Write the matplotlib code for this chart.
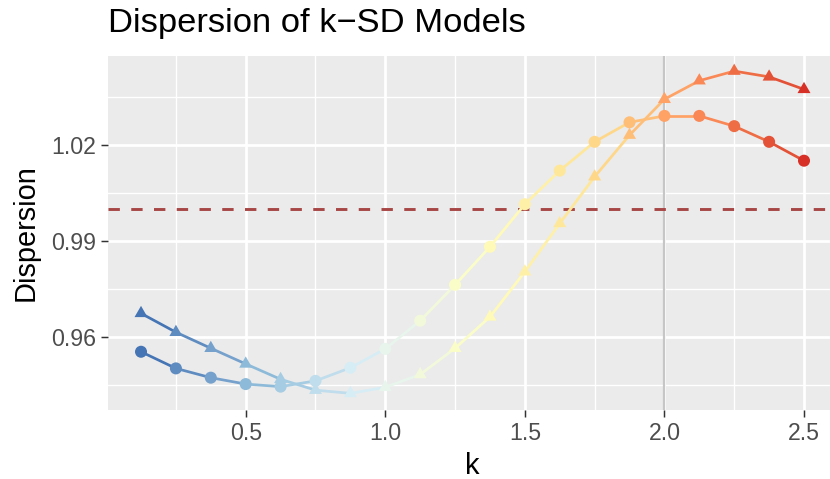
import numpy as np
import matplotlib
matplotlib.use("Agg")
import matplotlib.pyplot as plt
from matplotlib.colors import ListedColormap
from matplotlib.path import Path

# ---- data ----
k_values = [0.125, 0.25, 0.375, 0.5, 0.625, 0.75, 0.875, 1.0, 1.125, 1.25,
            1.375, 1.5, 1.625, 1.75, 1.875, 2.0, 2.125, 2.25, 2.375, 2.5]
disp_circle = [0.9554, 0.9502, 0.9473, 0.9453, 0.9445, 0.9463, 0.9504, 0.9563, 0.9651, 0.9763,
               0.9882, 1.0015, 1.0120, 1.0210, 1.0271, 1.0291, 1.0291, 1.0259, 1.0210, 1.0151]
disp_triangle = [0.9674, 0.9615, 0.9565, 0.9516, 0.9468, 0.9434, 0.9424, 0.9443, 0.9483, 0.9565,
                 0.9663, 0.9804, 0.9955, 1.0101, 1.0231, 1.0343, 1.0401, 1.0431, 1.0413, 1.0374]
x_ticks = [0.5, 1.0, 1.5, 2.0, 2.5]
x_ticklabels = ["0.5", "1.0", "1.5", "2.0", "2.5"]
y_ticks = [0.96, 0.99, 1.02]
y_ticklabels = ["0.96", "0.99", "1.02"]
ref_h = 1.0
ref_v = 2.0
palette_hex = ["#4575b4", "#91bfdb", "#e0f3f8", "#ffffbf", "#fee090", "#fc8d59", "#d73027"]

# ---- Lab-interpolated colour map (like ggplot's gradientn) ----
def hex2rgb(h):
    h = h.lstrip("#")
    return np.array([int(h[i:i + 2], 16) / 255 for i in (0, 2, 4)])

M = np.array([[0.4124564, 0.3575761, 0.1804375],
              [0.2126729, 0.7151522, 0.0721750],
              [0.0193339, 0.1191920, 0.9503041]])
WHITE = np.array([0.95047, 1.0, 1.08883])

def rgb2lab(c):
    lin = np.where(c <= 0.04045, c / 12.92, ((c + 0.055) / 1.055) ** 2.4)
    xyz = M @ lin / WHITE
    f = np.where(xyz > 0.008856, np.cbrt(xyz), 7.787 * xyz + 16 / 116)
    return np.array([116 * f[1] - 16, 500 * (f[0] - f[1]), 200 * (f[1] - f[2])])

def lab2rgb(lab):
    L, a, b = lab
    fy = (L + 16) / 116
    fx = fy + a / 500
    fz = fy - b / 200
    f = np.array([fx, fy, fz])
    xyz = np.where(f ** 3 > 0.008856, f ** 3, (f - 16 / 116) / 7.787) * WHITE
    lin = np.linalg.solve(M, xyz)
    lin = np.clip(lin, 0, 1)
    c = np.where(lin <= 0.0031308, 12.92 * lin, 1.055 * lin ** (1 / 2.4) - 0.055)
    return np.clip(c, 0, 1)

labs = [rgb2lab(hex2rgb(h)) for h in palette_hex]
stops = np.linspace(0, 1, len(labs))
cols = []
for t in np.linspace(0, 1, 256):
    i = min(np.searchsorted(stops, t, side="right") - 1, len(labs) - 2)
    u = (t - stops[i]) / (stops[i + 1] - stops[i])
    cols.append(lab2rgb(labs[i] * (1 - u) + labs[i + 1] * u))
cmap = ListedColormap(cols)
norm = plt.Normalize(min(k_values), max(k_values))

# ---- figure ----
W, H = 830, 479
fig = plt.figure(figsize=(W / 100, H / 100), dpi=100)
plt.rcParams["font.family"] = ["Liberation Sans", "DejaVu Sans"]

kmin, kmax = min(k_values), max(k_values)
xl = (kmin - 0.05 * (kmax - kmin), kmax + 0.05 * (kmax - kmin))
ylo, yhi = 0.9372, 1.04791
px_per_k = 279.15
left_px = 245.7 - (0.5 - xl[0]) * px_per_k
right_px = left_px + (xl[1] - xl[0]) * px_per_k
top_px, bot_px = 55.7, 410.0
ax = fig.add_axes([left_px / W, 1 - bot_px / H, (right_px - left_px) / W, (bot_px - top_px) / H])
ax.set_xlim(xl)
ax.set_ylim(ylo, yhi)
ax.set_facecolor("#ebebeb")
for s in ax.spines.values():
    s.set_visible(False)

ax.set_xticks(x_ticks)
ax.set_xticklabels(x_ticklabels)
ax.set_yticks(y_ticks)
ax.set_yticklabels(y_ticklabels)
ax.set_xticks([0.25, 0.75, 1.25, 1.75, 2.25], minor=True)
ax.set_yticks([0.945, 0.975, 1.005, 1.035], minor=True)
ax.tick_params(which="major", length=5.2, width=1.07, color="#333333",
               labelsize=16.7, labelcolor="#4d4d4d", pad=3.5)
ax.tick_params(which="minor", length=0)
ax.grid(which="major", color="white", linewidth=1.95)
ax.grid(which="minor", color="white", linewidth=0.98)
ax.set_axisbelow(True)

ax.axvline(ref_v, color="#c6c6c6", linewidth=1.6, zorder=1.5)
ax.axhline(ref_h, color="#a84646", linewidth=2.1, dashes=(3.9, 3.9), zorder=1.6)

kk = np.array(k_values)
for series in (disp_circle, disp_triangle):
    ys = np.array(series)
    for i in range(len(kk) - 1):
        ax.plot(kk[i:i + 2], ys[i:i + 2], color=cmap(norm(kk[i])), linewidth=1.95,
                solid_capstyle="butt", zorder=2)

tri = Path([(0, 1), (-0.866, -0.5), (0.866, -0.5), (0, 1)],
           [Path.MOVETO, Path.LINETO, Path.LINETO, Path.CLOSEPOLY])
ax.scatter(kk, disp_circle, c=kk, cmap=cmap, norm=norm, s=75, marker="o",
           linewidths=0, zorder=3)
ax.scatter(kk, disp_triangle, c=kk, cmap=cmap, norm=norm, s=117, marker=tri,
           linewidths=0, zorder=3)

fig.text(left_px / W, 1 - 31.7 / H, "Dispersion of k\u2212SD Models", fontsize=24.8,
         ha="left", va="baseline", color="black")
fig.text((left_px + right_px) / 2 / W, 1 - 474 / H, "k", fontsize=20.9,
         ha="center", va="baseline", color="black")
fig.text(26 / W, 1 - (top_px + bot_px) / 2 / H, "Dispersion", fontsize=20.9,
         rotation=90, ha="center", va="center", color="black")

fig.savefig("out.png", dpi=100, facecolor="white")
